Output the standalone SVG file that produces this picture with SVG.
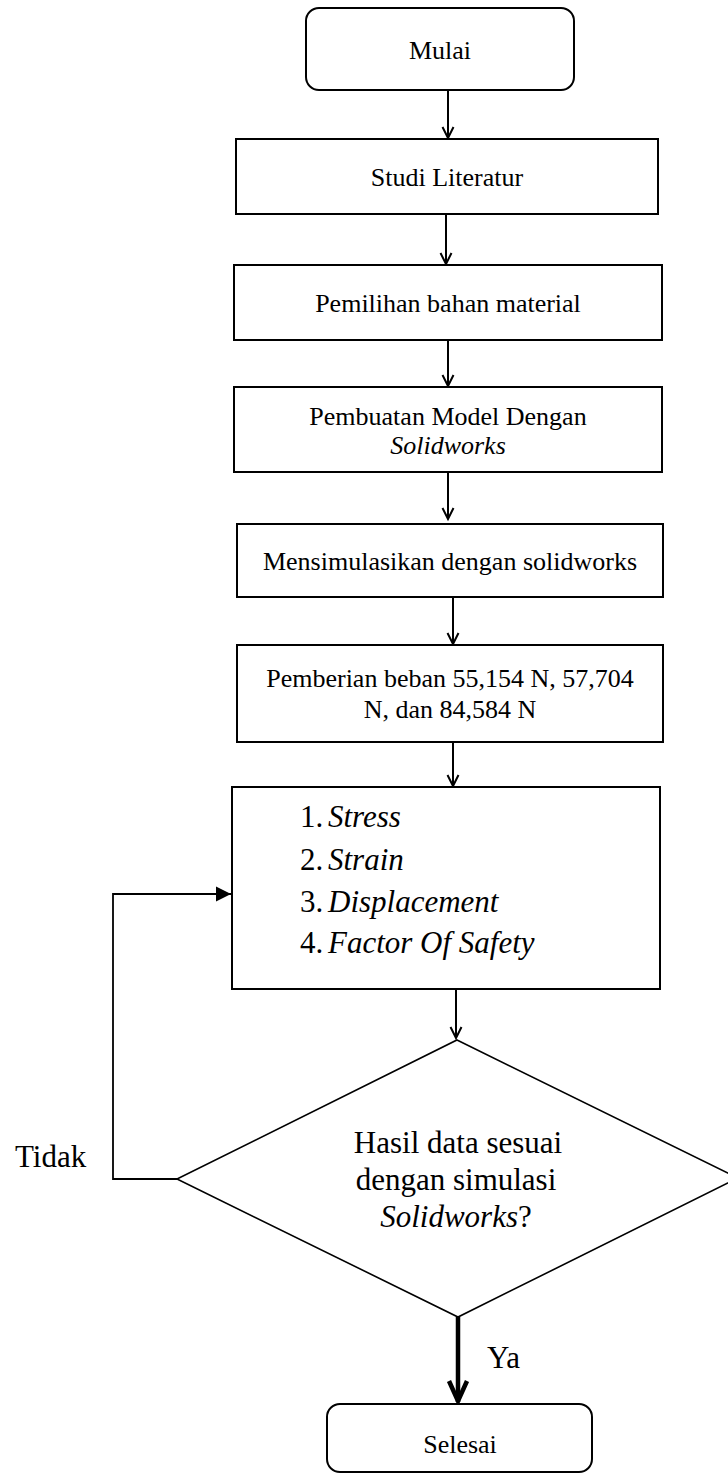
<svg xmlns="http://www.w3.org/2000/svg" width="728" height="1478" viewBox="0 0 728 1478">
<style>
.box{fill:#fff;stroke:#000;stroke-width:2}
.dia{fill:#fff;stroke:#000;stroke-width:1.6}
.t{font-family:"Liberation Serif","Times New Roman",serif;font-size:26px;fill:#000;text-anchor:middle}
.tl{font-family:"Liberation Serif","Times New Roman",serif;font-size:31px;fill:#000}
.i{font-style:italic}
.c{fill:none;stroke:#000;stroke-width:2}
.ct{fill:none;stroke:#000;stroke-width:4.5}
.loop{fill:none;stroke:#000;stroke-width:1.8}
</style>
<defs>
<marker id="v" markerUnits="userSpaceOnUse" markerWidth="30" markerHeight="30" refX="0" refY="0" orient="auto" overflow="visible">
<path d="M-11,-5.5 L0,0 L-11,5.5" fill="none" stroke="#000" stroke-width="2"/>
</marker>
<marker id="vt" markerUnits="userSpaceOnUse" markerWidth="40" markerHeight="40" refX="0" refY="0" orient="auto" overflow="visible">
<path d="M-21,-9 L-1,0 L-21,9" fill="none" stroke="#000" stroke-width="4.5"/>
</marker>
<marker id="tri" markerUnits="userSpaceOnUse" markerWidth="30" markerHeight="30" refX="0" refY="0" orient="auto" overflow="visible">
<path d="M-15,-7.5 L0,0 L-15,7.5 Z" fill="#000"/>
</marker>
</defs>

<g id="connectors">
<line class="c" x1="448" y1="91" x2="448" y2="138" marker-end="url(#v)"/>
<line class="c" x1="446" y1="215" x2="446" y2="264" marker-end="url(#v)"/>
<line class="c" x1="448" y1="341" x2="448" y2="386" marker-end="url(#v)"/>
<line class="c" x1="448" y1="473" x2="448" y2="519" marker-end="url(#v)"/>
<line class="c" x1="453" y1="598" x2="453" y2="644" marker-end="url(#v)"/>
<line class="c" x1="453" y1="743" x2="453" y2="786" marker-end="url(#v)"/>
<line class="c" x1="456" y1="990" x2="456" y2="1038" marker-end="url(#v)"/>
<polyline class="loop" points="177,1179 113,1179 113,894 231,894" marker-end="url(#tri)"/>
<line class="ct" x1="458" y1="1317" x2="458" y2="1402" marker-end="url(#vt)"/>
</g>

<g id="mulai">
<rect class="box" x="306" y="8" width="268" height="82" rx="13"/>
<text class="t" x="440" y="59">Mulai</text>
</g>

<g id="studi">
<rect class="box" x="236" y="139" width="422" height="75"/>
<text class="t" x="447" y="186">Studi Literatur</text>
</g>

<g id="pemilihan">
<rect class="box" x="234" y="265" width="428" height="75"/>
<text class="t" x="448" y="312">Pemilihan bahan material</text>
</g>

<g id="pembuatan">
<rect class="box" x="234" y="387" width="428" height="85"/>
<text class="t" x="448" y="425">Pembuatan Model Dengan</text>
<text class="t i" x="448" y="454">Solidworks</text>
</g>

<g id="simulasi">
<rect class="box" x="237" y="524" width="426" height="73"/>
<text class="t" x="450" y="570">Mensimulasikan dengan solidworks</text>
</g>

<g id="beban">
<rect class="box" x="237" y="645" width="426" height="97"/>
<text class="t" x="450" y="687">Pemberian beban 55,154 N, 57,704</text>
<text class="t" x="450" y="718">N, dan 84,584 N</text>
</g>

<g id="hasil">
<rect class="box" x="232" y="787" width="428" height="202"/>
<text class="tl" x="300" y="827">1.</text><text class="tl i" x="328" y="827">Stress</text>
<text class="tl" x="300" y="870">2.</text><text class="tl i" x="328" y="870">Strain</text>
<text class="tl" x="300" y="912">3.</text><text class="tl i" x="328" y="912">Displacement</text>
<text class="tl" x="300" y="953">4.</text><text class="tl i" x="328" y="953">Factor Of Safety</text>
</g>

<g id="keputusan">
<polygon class="dia" points="457,1040 738,1178 458,1317 177,1179"/>
<text class="tl" x="458" y="1153" text-anchor="middle">Hasil data sesuai</text>
<text class="tl" x="456" y="1190" text-anchor="middle">dengan simulasi</text>
<text class="tl" x="456" y="1227" text-anchor="middle"><tspan class="i">Solidworks</tspan>?</text>
</g>

<g id="label-tidak">
<text class="tl" x="15" y="1167">Tidak</text>
</g>
<g id="label-ya">
<text class="tl" x="487" y="1368">Ya</text>
</g>

<g id="selesai">
<rect class="box" x="327" y="1404" width="265" height="68" rx="13"/>
<text class="t" x="460" y="1453">Selesai</text>
</g>
</svg>
